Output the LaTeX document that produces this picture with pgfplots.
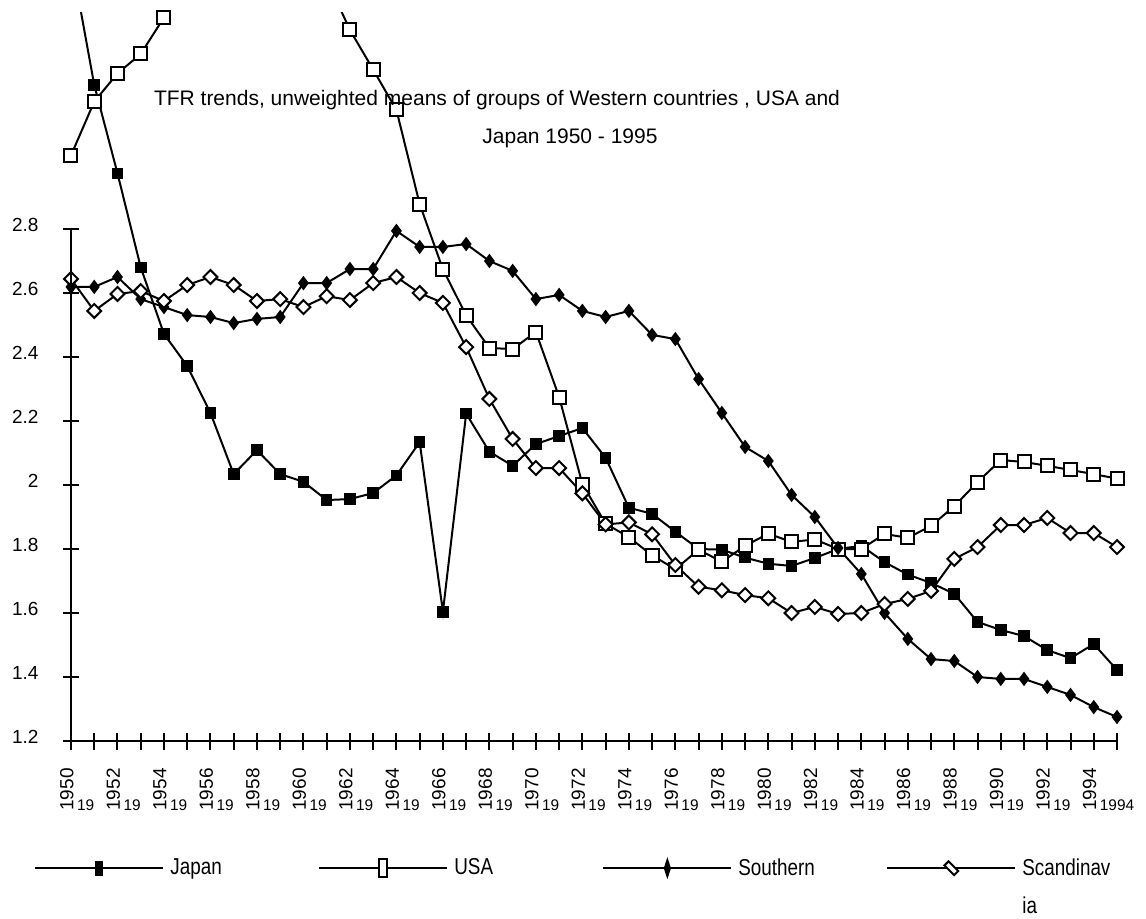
\documentclass[border=0pt]{standalone}
\usepackage{fontspec}
\setmainfont{Liberation Sans}
\newfontfamily\legfont[FakeStretch=0.82]{Liberation Sans}
\usepackage{pgfplots}
\pgfplotsset{compat=1.18}
\usepackage{pgfplotstable}
\newcommand\yl[1]{\rule{0pt}{13pt}#1}

\pgfplotstableread{
year japan usa southern scand
1950 3.65  3.030 2.619 2.644
1951 3.25  3.198 2.619 2.544
1952 2.974 3.286 2.650 2.597
1953 2.680 3.347 2.581 2.606
1954 2.472 3.461 2.556 2.575
1955 2.372 3.580 2.531 2.625
1956 2.225 3.640 2.525 2.650
1957 2.034 3.690 2.506 2.625
1958 2.109 3.640 2.519 2.575
1959 2.034 3.640 2.525 2.581
1960 2.010 3.620 2.631 2.556
1961 1.953 3.580 2.631 2.590
1962 1.956 3.422 2.675 2.578
1963 1.975 3.298 2.675 2.631
1964 2.030 3.172 2.794 2.650
1965 2.134 2.878 2.744 2.600
1966 1.604 2.674 2.744 2.569
1967 2.223 2.530 2.753 2.431
1968 2.104 2.428 2.700 2.269
1969 2.060 2.425 2.669 2.144
1970 2.128 2.478 2.581 2.053
1971 2.153 2.275 2.594 2.053
1972 2.178 2.003 2.544 1.974
1973 2.085 1.879 2.525 1.877
1974 1.929 1.837 2.544 1.883
1975 1.910 1.780 2.469 1.846
1976 1.854 1.737 2.456 1.750
1977 1.800 1.798 2.331 1.682
1978 1.798 1.760 2.225 1.671
1979 1.773 1.810 2.119 1.656
1980 1.754 1.848 2.075 1.646
1981 1.747 1.822 1.969 1.600
1982 1.772 1.830 1.900 1.619
1983 1.800 1.800 1.803 1.597
1984 1.810 1.800 1.722 1.600
1985 1.759 1.847 1.600 1.628
1986 1.720 1.835 1.519 1.644
1987 1.694 1.872 1.456 1.669
1988 1.660 1.934 1.450 1.769
1989 1.572 2.009 1.400 1.806
1990 1.547 2.078 1.394 1.875
1991 1.528 2.072 1.394 1.875
1992 1.484 2.060 1.369 1.897
1993 1.459 2.047 1.344 1.850
1994 1.503 2.034 1.306 1.850
1995 1.422 2.020 1.275 1.806
}\data

\begin{document}
\begin{tikzpicture}
\useasboundingbox (-35.5pt,-88.5pt) rectangle (537.5pt,370.5pt);
\begin{axis}[
  at={(0pt,0pt)}, anchor=south west,
  x=11.6222pt, y=160pt,
  xmin=1950, xmax=1995, ymin=1.2, ymax=3.475,
  axis x line*=bottom, axis y line*=left,
  y axis line style={draw=none},
  x axis line style={line width=1pt},
  tick align=center, major tick length=8.5pt,
  every tick/.style={black, line width=1pt},
  ytick={1.2,1.4,1.6,1.8,2,2.2,2.4,2.6,2.8},
  yticklabels={1.2,1.4,1.6,1.8,2,2.2,2.4,2.6,2.8},
  yticklabel style={font=\fontsize{9.5}{11}\selectfont, anchor=east, xshift=-8.5pt, yshift=2pt},
  xtick={1950,1951,...,1995},
  xticklabels={,1951,,1953,,1955,,1957,,1959,,1961,,1963,,1965,,1967,,1969,,1971,,1973,,1975,,1977,,1979,,1981,,1983,,1985,,1987,,1989,,1991,,1993,,1994},
  xticklabel style={font=\fontsize{7.7}{9}\selectfont, anchor=north, yshift=-21.7pt},
  extra x ticks={1950,1952,1954,1956,1958,1960,1962,1964,1966,1968,1970,1972,1974,1976,1978,1980,1982,1984,1986,1988,1990,1992,1994},
  extra x tick labels={\yl{1950},\yl{1952},\yl{1954},\yl{1956},\yl{1958},\yl{1960},\yl{1962},\yl{1964},\yl{1966},\yl{1968},\yl{1970},\yl{1972},\yl{1974},\yl{1976},\yl{1978},\yl{1980},\yl{1982},\yl{1984},\yl{1986},\yl{1988},\yl{1990},\yl{1992},\yl{1994}},
  extra x tick style={xticklabel style={yshift=13.45pt, rotate=90, yshift=-1.5pt, anchor=south east, fill=white, inner xsep=1pt, inner ysep=0pt, font=\fontsize{9.5}{11}\selectfont}},
  clip=true,
  every axis plot/.append style={black, line width=1pt},
  legend columns=4,
  legend image code/.code={\draw[mark repeat=2,mark phase=2,every mark/.append style={xscale=0.6,yscale=1.4}] plot coordinates {(0pt,0pt) (32pt,0pt) (64pt,0pt)};},
  legend style={at={(-0.0354,-0.1552)}, anchor=north west, draw=none, fill=none, inner sep=0pt,
    /tikz/column sep=0pt, font=\legfont\fontsize{11.5}{13.8}\selectfont,
    nodes={text width=71pt, inner xsep=3pt, align=left}},
]
\addplot[mark=square*, mark size=2.4pt, mark options={fill=black, solid}] table[x=year,y=japan] {\data};
\addlegendentry{Japan}
\addplot[mark=square*, mark size=3.25pt, mark options={fill=white, solid}] table[x=year,y=usa] {\data};
\addlegendentry{USA}
\addplot[mark=diamond*, mark size=2.8pt, mark options={fill=black, solid}] table[x=year,y=southern] {\data};
\addlegendentry{Southern}
\addplot[mark=square*, mark size=2.45pt, mark options={fill=white, rotate=45, solid}] table[x=year,y=scand] {\data};
\addlegendentry{Scandinav\\[5.5pt]ia}
\coordinate (ya) at (axis cs:1950,1.2);
\coordinate (yb) at (axis cs:1950,2.8);
\end{axis}
\draw[line width=1pt] (ya) -- (yb);
\node[font=\fontsize{10.5}{12.6}\selectfont, anchor=base] at (213pt,318pt) {TFR trends, unweighted means of groups of Western countries , USA and};
\node[font=\fontsize{10.5}{12.6}\selectfont, anchor=base] at (249.5pt,299pt) {Japan 1950 - 1995};
\end{tikzpicture}
\end{document}
